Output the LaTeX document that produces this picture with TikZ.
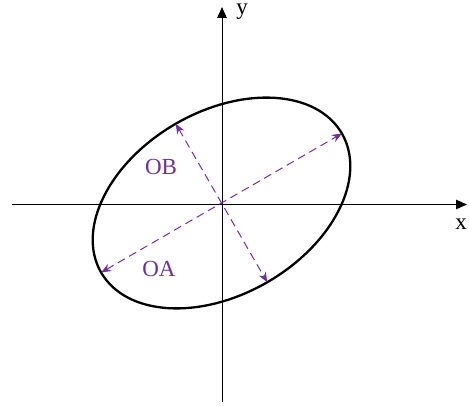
\documentclass[tikz,border=0pt]{standalone}
\usepackage{fontspec}
\setmainfont{Liberation Serif}
\usetikzlibrary{arrows.meta}
\definecolor{axpurple}{RGB}{112,48,160}
\begin{document}
\begin{tikzpicture}[x=1pt,y=-1pt,
  axisline/.style={line width=1pt,-{Triangle[length=11pt,width=9.5pt]}},
  semiaxis/.style={axpurple,line width=1pt,dash pattern=on 8pt off 5pt,{Stealth[length=10pt,width=8pt]}-{Stealth[length=10pt,width=8pt]}},
  lbl/.style={font=\fontsize{23}{26}\selectfont,inner sep=0pt},
  plbl/.style={lbl,text=axpurple}]
\useasboundingbox (0,0) rectangle (469,406);
\coordinate (O) at (221.5,203);
\coordinate (xs) at (12,204.5);
\coordinate (xe) at (467,204.5);
\coordinate (ys) at (222,402);
\coordinate (ye) at (222,7);
\draw[axisline] (xs) -- (xe);
\draw[axisline] (ys) -- (ye);
\node[lbl] (xl) at (461,224) {x};
\node[lbl,anchor=north] (yl) at (242,4) {y};
\draw[line width=2.3pt] (O) ellipse[x radius=139, y radius=91.5, rotate=30];
\path (O) ++(-30:139) coordinate (A1);
\path (O) ++(150:139) coordinate (A2);
\path (O) ++(-120:91.5) coordinate (B1);
\path (O) ++(60:91.5) coordinate (B2);
\draw[semiaxis] (A2) -- (A1);
\draw[semiaxis] (B1) -- (B2);
\node[plbl] (ob) at (161,167) {OB};
\node[plbl] (oa) at (159,269) {OA};
\end{tikzpicture}
\end{document}
